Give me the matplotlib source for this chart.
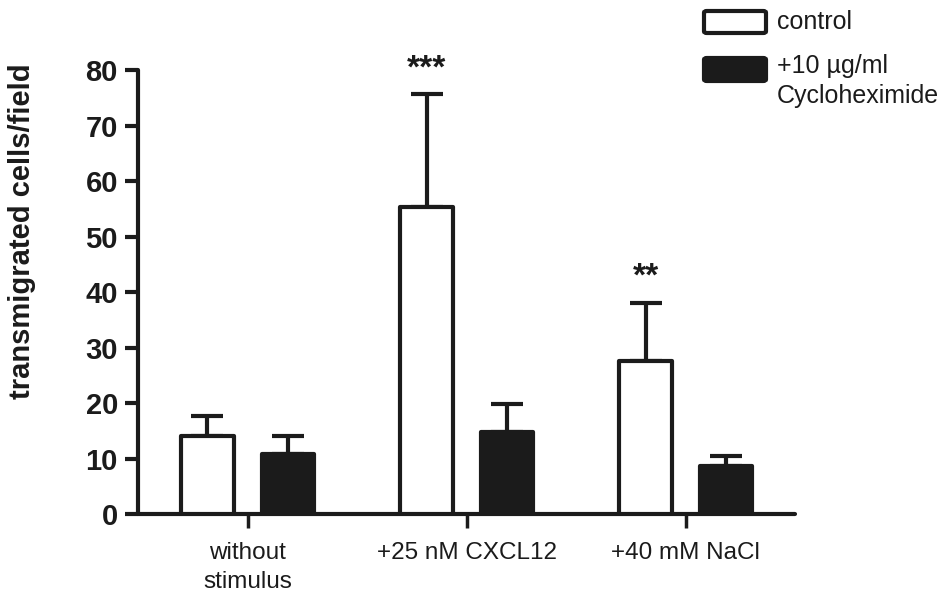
import matplotlib
matplotlib.use('Agg')
import matplotlib.pyplot as plt
from matplotlib.patches import FancyBboxPatch
import numpy as np

plt.rcParams['font.family'] = ['Liberation Sans', 'DejaVu Sans']

groups = ['without\nstimulus', '+25 nM CXCL12', '+40 mM NaCl']
control = [14.1, 55.4, 27.6]
control_err = [3.6, 20.3, 10.5]
chx = [10.8, 14.7, 8.6]
chx_err = [3.3, 5.1, 1.8]
stars = ['', '***', '**']

dark = '#1b1b1b'
lw = 3.0

fig = plt.figure(figsize=(9.41, 5.99), dpi=100)
ax = fig.add_axes([0.1467, 0.1419, 0.6983, 0.7412])

x = np.arange(len(groups))
off = 0.183
w = 0.238

b1 = ax.bar(x - off, control, w, color='white', edgecolor=dark, linewidth=lw, zorder=3)
b2 = ax.bar(x + off, chx, w, color=dark, edgecolor=dark, linewidth=lw, zorder=3)
for b in list(b1) + list(b2):
    b.set_joinstyle('round')

ax.errorbar(x - off, control, yerr=[np.zeros(3), control_err], fmt='none',
            ecolor=dark, elinewidth=lw, capsize=11.5, capthick=lw, zorder=2)
ax.errorbar(x + off, chx, yerr=[np.zeros(3), chx_err], fmt='none',
            ecolor=dark, elinewidth=lw, capsize=11.5, capthick=lw, zorder=2)

for i, s in enumerate(stars):
    if s:
        ax.annotate(s, (x[i] - off, control[i] + control_err[i]), xytext=(0, 7),
                    textcoords='offset points', ha='center', va='bottom',
                    fontsize=24, fontweight='bold', color=dark, annotation_clip=False)

ax.set_xlim(-0.5, 2.5)
ax.set_ylim(0, 80)
ax.set_yticks(range(0, 81, 10))
ax.set_xticks(x)
ax.set_xticklabels(groups, fontsize=17.5, color=dark, linespacing=1.4)
for lab in ax.get_yticklabels():
    lab.set_fontsize(21)
    lab.set_fontweight('bold')
    lab.set_color(dark)

for side in ['top', 'right']:
    ax.spines[side].set_visible(False)
for side in ['left', 'bottom']:
    ax.spines[side].set_linewidth(lw)
    ax.spines[side].set_color(dark)
    ax.spines[side].set_capstyle('round')
ax.tick_params(axis='y', length=9.5, width=lw, color=dark, pad=5)
ax.tick_params(axis='x', length=10, width=2.5, color=dark, pad=10)

ax.set_ylabel('transmigrated cells/field', fontsize=21, fontweight='bold', color=dark)
ax.yaxis.set_label_coords(-0.156, 0.637)

# legend drawn by hand in figure pixels
def fx(px):
    return px / 941
def fy(py):
    return 1 - py / 599

fig.patches.append(FancyBboxPatch((fx(704), fy(33)), fx(62), 22 / 599,
                                  boxstyle='round,pad=0,rounding_size=0.003',
                                  transform=fig.transFigure, facecolor='white',
                                  edgecolor=dark, linewidth=lw))
fig.patches.append(FancyBboxPatch((fx(704), fy(81)), fx(62), 23 / 599,
                                  boxstyle='round,pad=0,rounding_size=0.003',
                                  transform=fig.transFigure, facecolor=dark,
                                  edgecolor=dark, linewidth=lw))
fig.text(fx(777), fy(22), 'control', fontsize=18, color=dark, va='center')
fig.text(fx(777), fy(54), '+10 µg/ml\nCycloheximide', fontsize=18, color=dark,
         va='top', ha='left', linespacing=1.32)

fig.savefig('out.png', dpi=100)
